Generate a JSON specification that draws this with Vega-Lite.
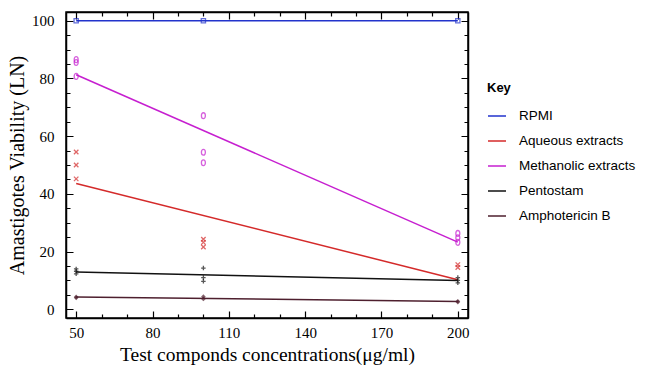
{
  "$schema": "https://vega.github.io/schema/vega-lite/v6.json",
  "autosize": "none",
  "width": 402,
  "height": 306,
  "padding": {"left": 66, "top": 12, "right": 187, "bottom": 52},
  "background": "white",
  "config": {
    "view": {"stroke": "black", "strokeWidth": 1.5},
    "axis": {
      "labelFont": "Liberation Sans Narrow",
      "labelFontSize": 15,
      "labelColor": "black",
      "titleFont": "Liberation Serif",
      "titleFontSize": 19.5,
      "titleFontWeight": "normal",
      "titleColor": "black",
      "labelOverlap": false,
      "domainColor": "black",
      "domainWidth": 1.5
    },
    "point": {"filled": false, "strokeWidth": 1.3, "size": 24}
  },
  "data": {
    "values": [
      {"conc": 50, "viability": 100, "group": "RPMI"},
      {"conc": 100, "viability": 100, "group": "RPMI"},
      {"conc": 200, "viability": 100, "group": "RPMI"},
      {"conc": 50, "viability": 54.5, "group": "Aqueous extracts"},
      {"conc": 50, "viability": 50.0, "group": "Aqueous extracts"},
      {"conc": 50, "viability": 45.2, "group": "Aqueous extracts"},
      {"conc": 100, "viability": 24.3, "group": "Aqueous extracts"},
      {"conc": 100, "viability": 23.2, "group": "Aqueous extracts"},
      {"conc": 100, "viability": 21.6, "group": "Aqueous extracts"},
      {"conc": 200, "viability": 15.5, "group": "Aqueous extracts"},
      {"conc": 200, "viability": 14.5, "group": "Aqueous extracts"},
      {"conc": 50, "viability": 86.5, "group": "Methanolic extracts"},
      {"conc": 50, "viability": 85.5, "group": "Methanolic extracts"},
      {"conc": 50, "viability": 80.7, "group": "Methanolic extracts"},
      {"conc": 100, "viability": 67.1, "group": "Methanolic extracts"},
      {"conc": 100, "viability": 54.4, "group": "Methanolic extracts"},
      {"conc": 100, "viability": 50.8, "group": "Methanolic extracts"},
      {"conc": 200, "viability": 26.3, "group": "Methanolic extracts"},
      {"conc": 200, "viability": 24.8, "group": "Methanolic extracts"},
      {"conc": 200, "viability": 23.2, "group": "Methanolic extracts"},
      {"conc": 50, "viability": 14.0, "group": "Pentostam"},
      {"conc": 50, "viability": 13.2, "group": "Pentostam"},
      {"conc": 50, "viability": 12.3, "group": "Pentostam"},
      {"conc": 100, "viability": 14.3, "group": "Pentostam"},
      {"conc": 100, "viability": 11.0, "group": "Pentostam"},
      {"conc": 100, "viability": 9.7, "group": "Pentostam"},
      {"conc": 200, "viability": 11.0, "group": "Pentostam"},
      {"conc": 200, "viability": 10.0, "group": "Pentostam"},
      {"conc": 200, "viability": 9.2, "group": "Pentostam"},
      {"conc": 50, "viability": 4.3, "group": "Amphotericin B"},
      {"conc": 50, "viability": 4.0, "group": "Amphotericin B"},
      {"conc": 100, "viability": 4.4, "group": "Amphotericin B"},
      {"conc": 100, "viability": 3.6, "group": "Amphotericin B"},
      {"conc": 200, "viability": 2.8, "group": "Amphotericin B"},
      {"conc": 200, "viability": 2.5, "group": "Amphotericin B"}
    ]
  },
  "layer": [
    {
      "transform": [
        {"regression": "viability", "on": "conc", "groupby": ["group"], "extent": [50, 200]}
      ],
      "mark": {"type": "line", "strokeWidth": 1.5},
      "encoding": {
        "x": {
          "field": "conc", "type": "quantitative",
          "scale": {"domain": [46, 204], "nice": false, "zero": false},
          "axis": {
            "orient": "bottom",
            "title": "Test componds concentrations(μg/ml)",
            "values": [50, 80, 110, 140, 170, 200],
            "ticks": false,
            "grid": true,
            "gridColor": "black",
            "gridOpacity": 1,
            "gridWidth": 1.2,
            "gridDash": [7, 292, 7, 400],
            "labelPadding": 7,
            "titlePadding": 5
          }
        },
        "y": {
          "field": "viability", "type": "quantitative",
          "scale": {"domain": [-3, 103], "nice": false, "zero": false},
          "axis": {
            "orient": "left",
            "title": "Amastigotes Viability (LN)",
            "titleFontSize": 20,
            "values": [0, 20, 40, 60, 80, 100],
            "ticks": false,
            "grid": true,
            "gridColor": "black",
            "gridOpacity": 1,
            "gridWidth": 1.2,
            "gridDash": [7, 388, 7, 500],
            "labelPadding": 12,
            "titlePadding": 4
          }
        },
        "color": {
          "field": "group", "type": "nominal",
          "scale": {
            "domain": ["RPMI", "Aqueous extracts", "Methanolic extracts", "Pentostam", "Amphotericin B"],
            "range": ["#2233cc", "#d42a2a", "#c61fd0", "#111111", "#4e1f2e"]
          },
          "legend": {
            "title": "\u00a0\u00a0\u00a0\u00a0\u00a0\u00a0\u00a0\u00a0Key",
            "orient": "none",
            "legendX": 421,
            "legendY": 70,
            "titleFont": "Liberation Sans",
            "titleFontSize": 13,
            "titleFontWeight": "bold",
            "titleColor": "black",
            "titlePadding": 11,
            "labelFont": "Liberation Sans",
            "labelFontSize": 13.5,
            "labelColor": "black",
            "labelOffset": 12,
            "symbolType": "stroke",
            "symbolSize": 324,
            "symbolStrokeWidth": 1.5,
            "rowPadding": 8
          }
        }
      }
    },
    {
      "transform": [{"filter": "datum.group == 'RPMI'"}],
      "mark": {"type": "point", "shape": "square", "color": "#2233cc", "size": 18},
      "encoding": {
        "x": {"field": "conc", "type": "quantitative", "axis": null},
        "y": {"field": "viability", "type": "quantitative", "axis": null}
      }
    },
    {
      "transform": [{"filter": "datum.group == 'Aqueous extracts'"}],
      "mark": {"type": "point", "shape": "M-1,-1L1,1M1,-1L-1,1", "color": "#d42a2a", "size": 20},
      "encoding": {
        "x": {"field": "conc", "type": "quantitative", "axis": null},
        "y": {"field": "viability", "type": "quantitative", "axis": null}
      }
    },
    {
      "transform": [{"filter": "datum.group == 'Methanolic extracts'"}],
      "mark": {"type": "point", "shape": "M0,-1.1C1,-1.1 1,1.1 0,1.1C-1,1.1 -1,-1.1 0,-1.1Z", "color": "#c61fd0", "size": 28},
      "encoding": {
        "x": {"field": "conc", "type": "quantitative", "axis": null},
        "y": {"field": "viability", "type": "quantitative", "axis": null}
      }
    },
    {
      "transform": [{"filter": "datum.group == 'Pentostam'"}],
      "mark": {"type": "point", "shape": "M0,-1L0,1M-1,0L1,0", "color": "#111111", "size": 20},
      "encoding": {
        "x": {"field": "conc", "type": "quantitative", "axis": null},
        "y": {"field": "viability", "type": "quantitative", "axis": null}
      }
    },
    {
      "transform": [{"filter": "datum.group == 'Amphotericin B'"}],
      "mark": {"type": "point", "shape": "diamond", "color": "#4e1f2e", "size": 22, "filled": true},
      "encoding": {
        "x": {"field": "conc", "type": "quantitative", "axis": null},
        "y": {"field": "viability", "type": "quantitative", "axis": null}
      }
    },
    {
      "mark": {"type": "point", "opacity": 0},
      "encoding": {
        "x": {
          "field": "conc", "type": "quantitative",
          "axis": {
            "orient": "top", "title": null, "labels": false, "ticks": false,
            "values": [60, 70, 90, 100, 120, 130, 150, 160, 180, 190],
            "grid": true,
            "gridColor": "black",
            "gridOpacity": 1,
            "gridWidth": 1.2,
            "gridDash": [4, 298, 4, 400]
          }
        },
        "y": {
          "field": "viability", "type": "quantitative",
          "axis": {
            "orient": "right", "title": null, "labels": false, "ticks": false,
            "values": [5, 10, 15, 25, 30, 35, 45, 50, 55, 65, 70, 75, 85, 90, 95],
            "grid": true,
            "gridColor": "black",
            "gridOpacity": 1,
            "gridWidth": 1.2,
            "gridDash": [4, 394, 4, 500]
          }
        }
      }
    }
  ],
  "resolve": {"axis": {"x": "independent", "y": "independent"}}
}
